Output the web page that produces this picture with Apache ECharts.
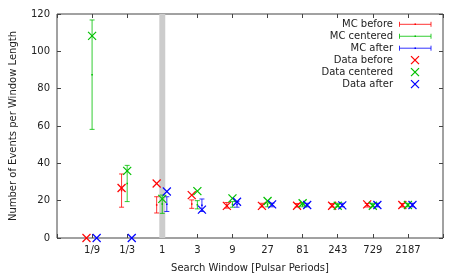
<!DOCTYPE html>
<html>
<head>
<meta charset="utf-8">
<script src="https://cdn.jsdelivr.net/npm/echarts@6/dist/echarts.min.js"></script>
<style>html,body{margin:0;padding:0;background:#fff;}#c{width:463px;height:278px;}</style>
</head>
<body>
<div id="c"></div>
<script>
// Search windows (as powers of 3) and their tick labels
const windowExp = [-2, -1, 0, 1, 2, 3, 4, 5, 6, 7];
const tickLabels = ['1/9', '1/3', '1', '3', '9', '27', '81', '243', '729', '2187'];

// Data (X markers)
const dataBefore   = [0, 26.8, 29.2, 23.0, 17.2, 17.2, 17.3, 17.3, 18.0, 17.7];
const dataCentered = [108.3, 36.0, 21.0, 25.1, 21.2, 19.8, 18.6, 17.3, 17.3, 17.7];
const dataAfter    = [0, 0, 24.9, 15.2, 19.4, 18.0, 17.7, 17.5, 17.7, 17.7];

// MC (error bars): mean, low, high
const mcBeforeMean   = [null, 25.4, 17.7, 18.2, 17.5, 17.6, 17.5, 17.5, 17.5, 17.5];
const mcBeforeLow    = [null, 16.5, 13.4, 15.9, 16.0, 16.6, 16.6, 16.6, 16.6, 16.6];
const mcBeforeHigh   = [null, 34.3, 22.1, 20.4, 19.0, 18.6, 18.5, 18.5, 18.5, 18.5];
const mcCenteredMean = [87.5, 29.2, 18.2, 17.8, 18.0, 17.8, 17.6, 17.6, 17.6, 17.6];
const mcCenteredLow  = [58.2, 19.5, 13.2, 15.6, 16.5, 16.7, 16.7, 16.7, 16.7, 16.7];
const mcCenteredHigh = [116.8, 38.9, 23.0, 20.0, 19.5, 18.8, 18.6, 18.6, 18.6, 18.6];
const mcAfterMean    = [null, null, 18.1, 17.5, 18.0, 17.7, 17.6, 17.6, 17.6, 17.6];
const mcAfterLow     = [null, null, 14.2, 14.2, 16.5, 16.7, 16.7, 16.7, 16.7, 16.7];
const mcAfterHigh    = [null, null, 22.1, 20.9, 19.5, 18.7, 18.6, 18.6, 18.6, 18.6];

// Highlighted window (power of 3)
const bandExp = 0;

const RED = '#ff0000', GREEN = '#00c000', BLUE = '#0000ff';
const FONT = 'DejaVu Sans';
const FS = 10;
const OFF_BEFORE = -0.16, OFF_AFTER = 0.13;

function xData(values, off) {
  return values.map((v, i) => [windowExp[i] + off, v]);
}
function errData(mean, low, high, off) {
  const out = [];
  mean.forEach((m, i) => { if (m !== null) out.push([windowExp[i] + off, m, low[i], high[i]]); });
  return out;
}
function xRender(color) {
  return function (params, api) {
    const p = api.coord([api.value(0), api.value(1)]);
    const s = 4;
    return { type: 'group', children: [
      { type: 'line', shape: { x1: p[0] - s, y1: p[1] - s, x2: p[0] + s, y2: p[1] + s }, style: { stroke: color, lineWidth: 1.2 } },
      { type: 'line', shape: { x1: p[0] - s, y1: p[1] + s, x2: p[0] + s, y2: p[1] - s }, style: { stroke: color, lineWidth: 1.2 } }
    ]};
  };
}
function errRender(color) {
  return function (params, api) {
    const x = api.value(0);
    const pm = api.coord([x, api.value(1)]);
    const pl = api.coord([x, api.value(2)]);
    const ph = api.coord([x, api.value(3)]);
    const c = 2.5;
    const st = { stroke: color, lineWidth: 1, opacity: 0.8 };
    return { type: 'group', children: [
      { type: 'line', shape: { x1: pl[0], y1: pl[1], x2: ph[0], y2: ph[1] }, style: st },
      { type: 'line', shape: { x1: pl[0] - c, y1: pl[1], x2: pl[0] + c, y2: pl[1] }, style: st },
      { type: 'line', shape: { x1: ph[0] - c, y1: ph[1], x2: ph[0] + c, y2: ph[1] }, style: st },
      { type: 'rect', shape: { x: pm[0] - 0.75, y: pm[1] - 0.75, width: 1.5, height: 1.5 }, style: { fill: color } }
    ]};
  };
}
function bandRender(params, api) {
  const x = api.value(0);
  const a = api.coord([x - 0.085, 120]);
  const b = api.coord([x + 0.085, 0]);
  return { type: 'rect', shape: { x: a[0], y: a[1], width: b[0] - a[0], height: b[1] - a[1] }, style: { fill: '#cccccc' } };
}

const labelMap = {};
windowExp.forEach((e, i) => { labelMap[e] = tickLabels[i]; });

const axisCommon = {
  type: 'value',
  axisLine: { show: false, onZero: false },
  splitLine: { show: false },
  axisTick: { show: true, inside: true, length: 4, lineStyle: { color: '#444', width: 1 } }
};

// Legend drawn as graphics
const legendItems = [
  { name: 'MC before', color: RED, kind: 'err' },
  { name: 'MC centered', color: GREEN, kind: 'err' },
  { name: 'MC after', color: BLUE, kind: 'err' },
  { name: 'Data before', color: RED, kind: 'x' },
  { name: 'Data centered', color: GREEN, kind: 'x' },
  { name: 'Data after', color: BLUE, kind: 'x' }
];
const graphics = [];
legendItems.forEach((it, i) => {
  const y = 24.3 + i * 11.95;
  graphics.push({ type: 'text', x: 393, y: y, style: { text: it.name, fill: '#222', font: FS + 'px "' + FONT + '"', textAlign: 'right', textVerticalAlign: 'middle' } });
  if (it.kind === 'err') {
    const x1 = 399.5, x2 = 431;
    const st = { stroke: it.color, lineWidth: 1, opacity: 0.8 };
    graphics.push({ type: 'line', shape: { x1: x1, y1: y, x2: x2, y2: y }, style: st });
    graphics.push({ type: 'line', shape: { x1: x1, y1: y - 2.5, x2: x1, y2: y + 2.5 }, style: st });
    graphics.push({ type: 'line', shape: { x1: x2, y1: y - 2.5, x2: x2, y2: y + 2.5 }, style: st });
    graphics.push({ type: 'rect', shape: { x: 414.5, y: y - 0.75, width: 1.5, height: 1.5 }, style: { fill: it.color } });
  } else {
    const cx = 415, s = 4;
    graphics.push({ type: 'line', shape: { x1: cx - s, y1: y - s, x2: cx + s, y2: y + s }, style: { stroke: it.color, lineWidth: 1.2 } });
    graphics.push({ type: 'line', shape: { x1: cx - s, y1: y + s, x2: cx + s, y2: y - s }, style: { stroke: it.color, lineWidth: 1.2 } });
  }
});

const chart = echarts.init(document.getElementById('c'), null, { renderer: 'canvas' });
chart.setOption({
  animation: false,
  backgroundColor: '#fff',
  textStyle: { fontFamily: FONT },
  grid: { left: 55, right: 20, top: 14, bottom: 38, show: true, borderColor: '#444', borderWidth: 1, backgroundColor: 'transparent' },
  xAxis: [
    Object.assign({}, axisCommon, {
      min: -3, max: 8, interval: 1, position: 'bottom',
      name: 'Search Window [Pulsar Periods]', nameLocation: 'middle', nameGap: 25,
      nameTextStyle: { fontFamily: FONT, fontSize: FS, color: '#222' },
      axisLabel: { fontFamily: FONT, fontSize: FS, color: '#222', margin: 7,
        formatter: v => (labelMap[v] !== undefined ? labelMap[v] : '') }
    }),
    Object.assign({}, axisCommon, { min: -3, max: 8, interval: 1, position: 'top', axisLabel: { show: false } })
  ],
  yAxis: [
    Object.assign({}, axisCommon, {
      min: 0, max: 120, interval: 20, position: 'left',
      name: 'Number of Events per Window Length', nameLocation: 'middle', nameGap: 39,
      nameTextStyle: { fontFamily: FONT, fontSize: FS, color: '#222' },
      axisLabel: { fontFamily: FONT, fontSize: FS, color: '#222', margin: 7 }
    }),
    Object.assign({}, axisCommon, { min: 0, max: 120, interval: 20, position: 'right', axisLabel: { show: false } })
  ],
  graphic: graphics,
  series: [
    { type: 'custom', name: 'band', renderItem: bandRender, data: [[bandExp]], z: 1, silent: true },
    { type: 'custom', name: 'MC before', renderItem: errRender(RED), data: errData(mcBeforeMean, mcBeforeLow, mcBeforeHigh, OFF_BEFORE), z: 2 },
    { type: 'custom', name: 'MC centered', renderItem: errRender(GREEN), data: errData(mcCenteredMean, mcCenteredLow, mcCenteredHigh, 0), z: 2 },
    { type: 'custom', name: 'MC after', renderItem: errRender(BLUE), data: errData(mcAfterMean, mcAfterLow, mcAfterHigh, OFF_AFTER), z: 2 },
    { type: 'custom', name: 'Data before', renderItem: xRender(RED), data: xData(dataBefore, OFF_BEFORE), z: 3 },
    { type: 'custom', name: 'Data centered', renderItem: xRender(GREEN), data: xData(dataCentered, 0), z: 3 },
    { type: 'custom', name: 'Data after', renderItem: xRender(BLUE), data: xData(dataAfter, OFF_AFTER), z: 3 }
  ]
});
</script>
</body>
</html>
